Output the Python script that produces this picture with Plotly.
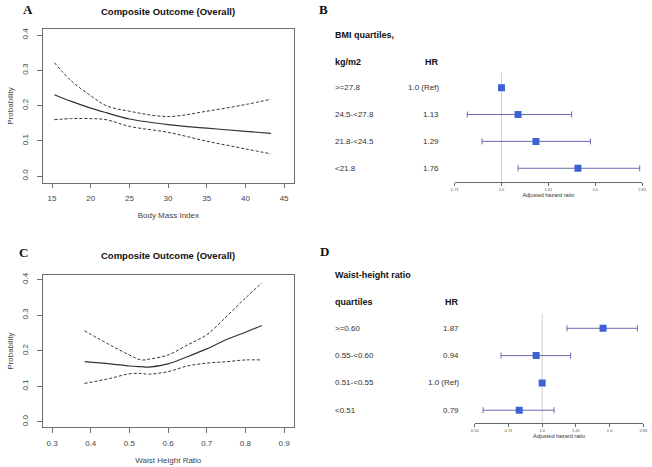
import plotly.graph_objects as go
import math

W, H = 652, 467

# ---- Panel A: BMI spline ----
bmi_x = [15.3, 17.5, 20, 22, 25, 30, 35, 40, 43.3]
bmi_fit = [0.231, 0.212, 0.193, 0.180, 0.162, 0.146, 0.136, 0.127, 0.121]
bmi_upper = [0.322, 0.270, 0.228, 0.200, 0.184, 0.169, 0.184, 0.203, 0.218]
bmi_lower = [0.160, 0.163, 0.163, 0.160, 0.141, 0.124, 0.099, 0.077, 0.063]

# ---- Panel C: Waist-height ratio spline ----
whr_x = [0.384, 0.45, 0.5, 0.53, 0.55, 0.6, 0.65, 0.7, 0.75, 0.8, 0.843]
whr_fit = [0.169, 0.163, 0.157, 0.155, 0.154, 0.163, 0.183, 0.205, 0.231, 0.252, 0.271]
whr_upper = [0.256, 0.216, 0.188, 0.174, 0.176, 0.188, 0.216, 0.245, 0.295, 0.348, 0.391]
whr_lower = [0.108, 0.122, 0.135, 0.136, 0.134, 0.141, 0.157, 0.165, 0.169, 0.174, 0.174]

# ---- Panel B: BMI quartiles forest ----
bmi_groups = [">=27.8", "24.5-<27.8", "21.8-<24.5", "<21.8"]
bmi_hr_text = ["1.0 (Ref)", "1.13", "1.29", "1.76"]
bmi_hr = [1.0, 1.13, 1.29, 1.76]
bmi_lo = [1.0, 0.776, 0.866, 1.13]
bmi_hi = [1.0, 1.68, 1.93, 2.78]
bmi_ticks = [0.7071, 1.0, 1.4142, 2.0, 2.8284]
bmi_ticktext = ["0.71", "1.0", "1.41", "2.0", "2.83"]

# ---- Panel D: WHtR quartiles forest ----
whr_groups = [">=0.60", "0.55-<0.60", "0.51-<0.55", "<0.51"]
whr_hr_text = ["1.87", "0.94", "1.0 (Ref)", "0.79"]
whr_hr = [1.87, 0.94, 1.0, 0.79]
whr_lo = [1.29, 0.655, 1.0, 0.545]
whr_hi = [2.66, 1.34, 1.0, 1.13]
whr_ticks = [0.5, 0.7071, 1.0, 1.4142, 2.0, 2.8284]
whr_ticktext = ["0.50", "0.71", "1.0", "1.41", "2.0", "2.83"]

SANS = "Liberation Sans, Arial, sans-serif"
SERIF = "Liberation Serif, Times New Roman, serif"
LINE_C = "#333333"
BOX_C = "#6e6e6e"
SQ_C = "#3f62d2"
ERR_C = "#6a6ab4"


def px_x(p):
    return p / W


def px_y(p):
    return 1 - p / H


fig = go.Figure()

# spline panels
for xs, fit, up, lo, xa, ya in [
    (bmi_x, bmi_fit, bmi_upper, bmi_lower, "x", "y"),
    (whr_x, whr_fit, whr_upper, whr_lower, "x3", "y3"),
]:
    fig.add_trace(go.Scatter(x=xs, y=fit, mode="lines", line=dict(color=LINE_C, width=1.2, shape="spline"),
                             xaxis=xa, yaxis=ya, showlegend=False))
    for s in (up, lo):
        fig.add_trace(go.Scatter(x=xs, y=s, mode="lines",
                                 line=dict(color=LINE_C, width=1, dash="3px,2px", shape="spline"),
                                 xaxis=xa, yaxis=ya, showlegend=False))

# forest panels
n = 4
rows = [n - i for i in range(n)]
for hr, lo, hi, xa, ya in [
    (bmi_hr, bmi_lo, bmi_hi, "x2", "y2"),
    (whr_hr, whr_lo, whr_hi, "x4", "y4"),
]:
    plus = [h - c for h, c in zip(hi, hr)]
    minus = [c - l for c, l in zip(hr, lo)]
    fig.add_trace(go.Scatter(
        x=hr, y=rows, mode="markers",
        marker=dict(symbol="square", size=7, color=SQ_C),
        error_x=dict(type="data", symmetric=False, array=plus, arrayminus=minus,
                     color=ERR_C, thickness=1, width=3),
        xaxis=xa, yaxis=ya, showlegend=False))
    fig.add_shape(type="line", xref=xa, yref=ya, x0=1, x1=1, y0=0.4, y1=n + 0.6,
                  line=dict(color="#d0d0d0", width=1), layer="below")

spline_axis = dict(showline=True, linecolor=BOX_C, linewidth=1, mirror=True, ticks="outside",
                   ticklen=4.5, tickcolor=BOX_C, showgrid=False, zeroline=False,
                   tickfont=dict(family=SANS, size=8, color="#444"))
title_font = dict(family=SANS, size=8, color="#444")

fig.update_layout(
    width=W, height=H, margin=dict(l=0, r=0, t=0, b=0),
    paper_bgcolor="white", plot_bgcolor="white",
    xaxis=dict(spline_axis, domain=[px_x(39.3), px_x(294)], range=[13.8, 46.27],
               tickvals=[15, 20, 25, 30, 35, 40, 45], anchor="y", ticklabelstandoff=3,
               title=dict(text="Body Mass Index", font=title_font, standoff=10)),
    yaxis=dict(spline_axis, domain=[px_y(181.5), px_y(27.3)], range=[-0.019, 0.417],
               tickvals=[0, 0.1, 0.2, 0.3, 0.4], ticktext=["0.0", "0.1", "0.2", "0.3", "0.4"],
               tickangle=-90, anchor="x", ticklabelstandoff=6,
               title=dict(text="Probability", font=title_font, standoff=6)),
    xaxis3=dict(spline_axis, domain=[px_x(39.3), px_x(294)], range=[0.276, 0.9255],
                tickvals=[0.3, 0.4, 0.5, 0.6, 0.7, 0.8, 0.9], anchor="y3", ticklabelstandoff=3,
                title=dict(text="Waist Height Ratio", font=title_font, standoff=10)),
    yaxis3=dict(spline_axis, domain=[px_y(427.3), px_y(273.8)], range=[-0.016, 0.414],
                tickvals=[0, 0.1, 0.2, 0.3, 0.4], ticktext=["0.0", "0.1", "0.2", "0.3", "0.4"],
                tickangle=-90, anchor="x3", ticklabelstandoff=6,
                title=dict(text="Probability", font=title_font, standoff=6)),
)

forest_axis = dict(type="log", showline=True, linecolor="#666", linewidth=1, ticks="outside",
                   ticklen=3, tickcolor="#666", showgrid=False, zeroline=False,
                   tickfont=dict(family=SANS, size=4, color="#555"))
fig.update_layout(
    xaxis2=dict(forest_axis, domain=[px_x(457), px_x(647)],
                range=[math.log10(bmi_ticks[0]), math.log10(bmi_ticks[-1])],
                tickvals=bmi_ticks, ticktext=bmi_ticktext, anchor="y2",
                title=dict(text="Adjusted hazard ratio", font=dict(family=SANS, size=5.5, color="#333"), standoff=2)),
    yaxis2=dict(domain=[px_y(181), px_y(71)], range=[0.481, 4.556], visible=False, anchor="x2"),
    xaxis4=dict(forest_axis, domain=[px_x(477.3), px_x(648.3)],
                range=[math.log10(whr_ticks[0]), math.log10(whr_ticks[-1])],
                tickvals=whr_ticks, ticktext=whr_ticktext, anchor="y4",
                title=dict(text="Adjusted hazard ratio", font=dict(family=SANS, size=5.5, color="#333"), standoff=2)),
    yaxis4=dict(domain=[px_y(422.7), px_y(313)], range=[0.536, 4.536], visible=False, anchor="x4"),
)

ann = []


def add_text(text, x, y, size, bold=False, family=SANS, xanchor="left", color="#222", yref="paper", yval=None):
    ann.append(dict(text=f"<b>{text}</b>" if bold else text, x=px_x(x), xref="paper",
                    y=(px_y(y) if yval is None else yval), yref=yref,
                    xanchor=xanchor, yanchor="middle", showarrow=False,
                    font=dict(family=family, size=size, color=color)))


# panel letters
add_text("A", 17, 8, 13, bold=True, family=SERIF, color="#111")
add_text("B", 317, 8, 13, bold=True, family=SERIF, color="#111")
add_text("C", 13, 252, 13, bold=True, family=SERIF, color="#111")
add_text("D", 318, 251, 13, bold=True, family=SERIF, color="#111")

# spline titles
add_text("Composite Outcome (Overall)", 166.5, 9.5, 9.5, bold=True, xanchor="center", color="#111")
add_text("Composite Outcome (Overall)", 166.5, 255, 9.5, bold=True, xanchor="center", color="#111")

# forest headers
add_text("BMI quartiles,", 334, 33, 9, bold=True, color="#111")
add_text("kg/m2", 334, 60, 9, bold=True, color="#111")
add_text("HR", 443, 60, 9, bold=True, xanchor="right", color="#111")
add_text("Waist-height ratio", 334, 274, 9, bold=True, color="#111")
add_text("quartiles", 334, 301.5, 9, bold=True, color="#111")
add_text("HR", 463, 301.5, 9, bold=True, xanchor="right", color="#111")

for g, t, r in zip(bmi_groups, bmi_hr_text, rows):
    add_text(g, 334, 0, 8, yref="y2", yval=r, color="#333")
    add_text(t, 443, 0, 8, yref="y2", yval=r, xanchor="right", color="#333")
for g, t, r in zip(whr_groups, whr_hr_text, rows):
    add_text(g, 334, 0, 8, yref="y4", yval=r, color="#333")
    add_text(t, 463, 0, 8, yref="y4", yval=r, xanchor="right", color="#333")

fig.update_layout(annotations=ann)

fig.write_html("out.html", config={"displayModeBar": False},
               post_script="document.body.style.margin='0px';document.body.style.padding='0px';")
